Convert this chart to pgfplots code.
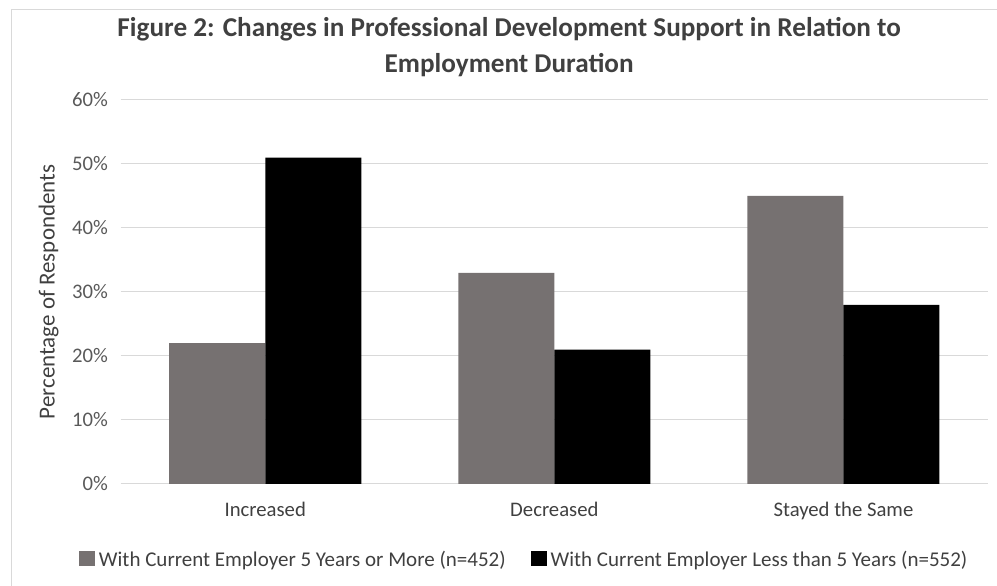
\documentclass[border=0pt]{standalone}
\usepackage{pgfplots}
\pgfplotsset{compat=1.18}
\usepackage{fontspec}
\setmainfont{Carlito}
\definecolor{barGray}{HTML}{767171}
\definecolor{gridGray}{HTML}{D9D9D9}
\definecolor{txt}{HTML}{404040}
\definecolor{tickc}{HTML}{595959}
\begin{document}
\begin{tikzpicture}
\useasboundingbox (0,0) rectangle (997pt,586pt);
\draw[gridGray, line width=1pt] (11pt,0pt) -- (11pt,576pt) -- (1000pt,576pt);
\begin{axis}[
  at={(120.7pt,102pt)}, anchor=south west,
  scale only axis, width=867.3pt, height=384pt,
  ybar=0pt, bar width=96pt,
  xmin=-0.5, xmax=2.5, ymin=0, ymax=60,
  xtick={0,1,2}, xticklabels={Increased,Decreased,Stayed the Same},
  ytick={0,10,...,60}, yticklabels={0\%,10\%,20\%,30\%,40\%,50\%,60\%},
  major tick length=0pt,
  axis line style={draw=none},
  ymajorgrids, grid style={gridGray, line width=1pt},
  xticklabel style={font=\fontsize{20.7}{24}\selectfont, text=txt, anchor=base, inner sep=0pt, yshift=-33pt},
  yticklabel style={font=\fontsize{20.7}{24}\selectfont, text=tickc, anchor=east, inner sep=0pt, xshift=-12.7pt},
  ylabel={Percentage of Respondents},
  ylabel style={font=\fontsize{23}{27}\selectfont, text=txt, at={(axis description cs:-0.083,0.5)}, anchor=center, inner sep=0pt},
  title={Figure 2: Changes in Professional Development Support in Relation to\\Employment Duration},
  title style={font=\bfseries\fontsize{27.2}{36}\selectfont, text=txt, align=center, at={(axis description cs:0.4479,1.2005)}, anchor=north, inner sep=0pt},
  legend columns=2,
  legend style={draw=none, fill=none, inner sep=0pt, outer sep=0pt, text=txt,
    font=\fontsize{21}{24}\selectfont,
    at={(axis description cs:-0.0481,-0.1966)}, anchor=west,
    nodes={inner sep=0pt},
    /tikz/every even column/.append style={column sep=25pt}},
  legend image code/.code={\fill[#1] (0pt,-7pt) rectangle (16pt,8pt); \path (20pt,0pt);},
]
\addplot[fill=barGray, draw=none] coordinates {(0,22) (1,33) (2,45)};
\addplot[fill=black, draw=none] coordinates {(0,51) (1,21) (2,28)};
\legend{With Current Employer 5 Years or More (n=452), With Current Employer Less than 5 Years (n=552)}
\end{axis}
\end{tikzpicture}
\end{document}
